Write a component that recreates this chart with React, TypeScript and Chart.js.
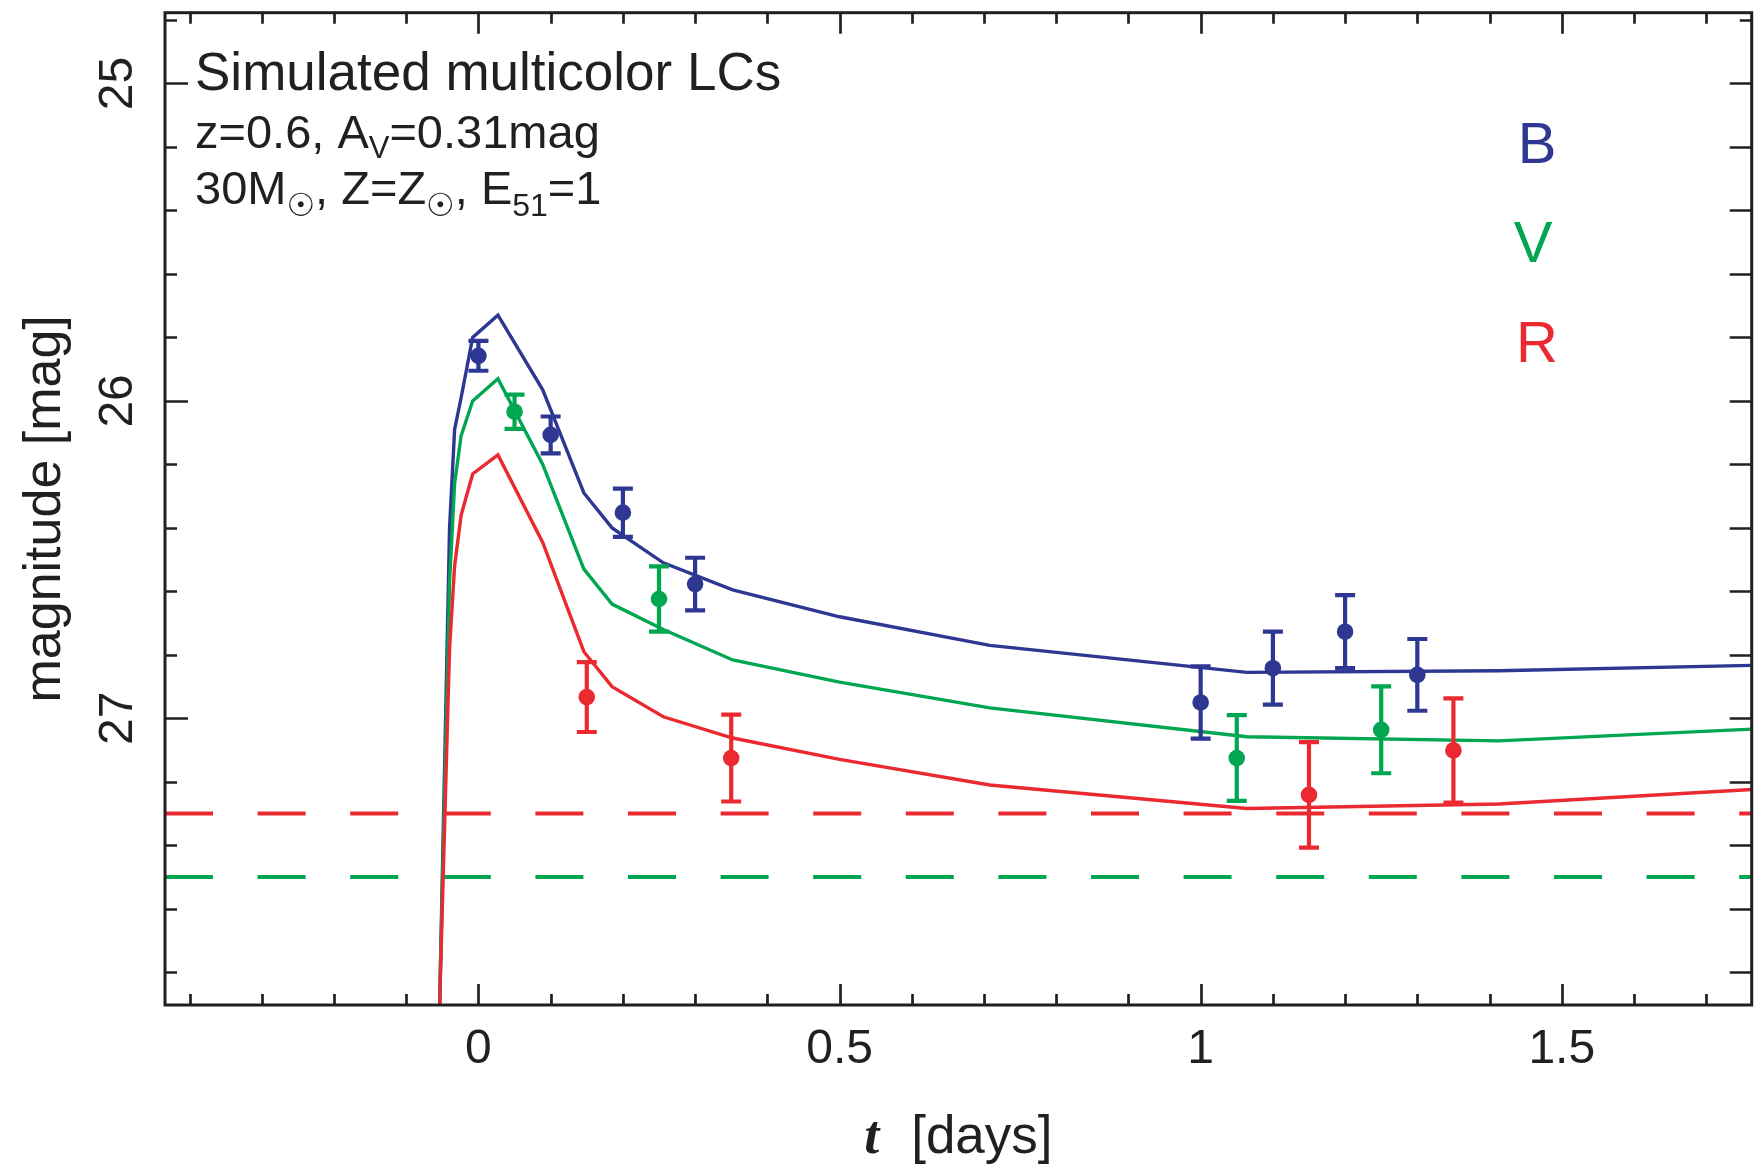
import React, { useEffect, useRef } from "react";
import { Chart, registerables } from "chart.js";

Chart.register(...registerables);

const W = 1754;
const H = 1164;

// ---- axis ranges ----
const X_MIN = -0.434;
const X_MAX = 1.763;
const Y_MIN = 24.777;
const Y_MAX = 27.903;

// ---- tick labels ----
const xMajorTicks = [0, 0.5, 1, 1.5];
const xTickLabels = ["0", "0.5", "1", "1.5"];
const yMajorTicks = [25, 26, 27];
const yTickLabels = ["25", "26", "27"];

// ---- model light curves (t in days, magnitude) ----
const modelT = [-0.0537, -0.04, -0.033, -0.024, -0.008, 0.027, 0.089, 0.146, 0.185, 0.256, 0.352, 0.5, 0.708, 1.064, 1.413, 1.763];
const modelB = [27.9, 26.4, 26.09, 25.99, 25.8, 25.73, 25.965, 26.29, 26.4, 26.51, 26.595, 26.68, 26.77, 26.855, 26.85, 26.833];
const modelV = [27.9, 26.57, 26.26, 26.11, 26.0, 25.93, 26.2, 26.53, 26.64, 26.72, 26.816, 26.886, 26.967, 27.058, 27.071, 27.034];
const modelR = [27.9, 26.78, 26.52, 26.36, 26.23, 26.17, 26.446, 26.79, 26.9, 26.995, 27.062, 27.129, 27.21, 27.284, 27.27, 27.224];

// ---- simulated observations ----
const obsBT = [0, 0.1, 0.2, 0.3, 1.0, 1.1, 1.2, 1.3];
const obsBMag = [25.858, 26.107, 26.352, 26.577, 26.95, 26.842, 26.727, 26.863];
const obsBErr = [0.047, 0.058, 0.076, 0.083, 0.114, 0.115, 0.115, 0.113];

const obsVT = [0.05, 0.25, 1.05, 1.25];
const obsVMag = [26.034, 26.624, 27.125, 27.036];
const obsVErr = [0.054, 0.103, 0.135, 0.137];

const obsRT = [0.15, 0.35, 1.15, 1.35];
const obsRMag = [26.933, 27.125, 27.241, 27.101];
const obsRErr = [0.11, 0.137, 0.166, 0.164];

// ---- limiting magnitudes ----
const limitR = 27.3;
const limitV = 27.5;

// ---- colours ----
const BLUE = "#2E3792";
const GREEN = "#00A650";
const RED = "#EA2A30";
const INK = "#231F20";

const modelDataset = (ys: number[], color: string, order: number) => ({
  type: "line" as const,
  data: modelT.map((t, i) => ({ x: t, y: ys[i] })),
  borderColor: color,
  borderWidth: 3.4,
  pointRadius: 0,
  tension: 0,
  fill: false,
  order,
});

const errorDatasets = (ts: number[], ms: number[], es: number[], color: string) =>
  ts.map((t, i) => ({
    type: "line" as const,
    data: [
      { x: t, y: ms[i] - es[i] },
      { x: t, y: ms[i] + es[i] },
    ],
    borderColor: color,
    borderWidth: 4.2,
    pointStyle: "line" as const,
    pointRadius: 10,
    pointBorderWidth: 4.2,
    pointBorderColor: color,
    pointBackgroundColor: color,
    fill: false,
    order: 1,
  }));

const markerDataset = (ts: number[], ms: number[], color: string) => ({
  type: "line" as const,
  data: ts.map((t, i) => ({ x: t, y: ms[i] })),
  showLine: false,
  pointRadius: 8.3,
  pointBorderWidth: 0,
  pointBackgroundColor: color,
  pointBorderColor: color,
  order: 0,
});

const limitDataset = (y: number, color: string) => ({
  type: "line" as const,
  data: [
    { x: X_MIN, y },
    { x: X_MAX, y },
  ],
  borderColor: color,
  borderWidth: 4,
  borderDash: [48, 44.6],
  pointRadius: 0,
  fill: false,
  order: 6,
});

type Run = { text: string; size: number; dy?: number; family?: string };

function drawRuns(ctx: CanvasRenderingContext2D, x: number, y: number, runs: Run[]) {
  let cx = x;
  for (const r of runs) {
    ctx.font = `${r.size}px ${r.family ?? "'Liberation Sans', Arial, sans-serif"}`;
    ctx.fillText(r.text, cx, y + (r.dy ?? 0));
    cx += ctx.measureText(r.text).width;
  }
}

const decorPlugin = {
  id: "decor",
  afterDatasetsDraw(chart: any) {
    const ctx: CanvasRenderingContext2D = chart.ctx;
    const a = chart.chartArea;
    const xs = chart.scales.x;
    const ys = chart.scales.y;
    ctx.save();
    ctx.strokeStyle = INK;
    ctx.fillStyle = INK;
    ctx.lineWidth = 2.7;
    ctx.lineCap = "butt";

    // x ticks (every 0.1, long at 0.5 multiples), inward on bottom and top
    ctx.beginPath();
    for (let i = -4; i <= 17; i++) {
      const v = i / 10;
      const px = Math.round(xs.getPixelForValue(v)) + 0.5;
      const major = i % 5 === 0;
      const len = major ? 21 : 11;
      ctx.moveTo(px, a.bottom);
      ctx.lineTo(px, a.bottom - len);
      ctx.moveTo(px, a.top);
      ctx.lineTo(px, a.top + len);
    }
    // y ticks (every 0.2, long at integers)
    for (let j = 0; j <= 15; j++) {
      const v = (248 + 2 * j) / 10;
      const py = Math.round(ys.getPixelForValue(v)) + 0.5;
      const major = (248 + 2 * j) % 10 === 0;
      const lenL = major ? 23 : 12;
      const lenR = j === 0 ? 12 : 22;
      ctx.moveTo(a.left, py);
      ctx.lineTo(a.left + lenL, py);
      ctx.moveTo(a.right, py);
      ctx.lineTo(a.right - lenR, py);
    }
    ctx.stroke();

    // frame
    ctx.lineWidth = 3;
    ctx.strokeRect(a.left, a.top, a.right - a.left, a.bottom - a.top);

    // x tick labels
    ctx.font = "48px 'Liberation Sans', Arial, sans-serif";
    ctx.textAlign = "center";
    ctx.textBaseline = "alphabetic";
    xMajorTicks.forEach((v, i) => {
      ctx.fillText(xTickLabels[i], xs.getPixelForValue(v), 1063);
    });

    // y tick labels (rotated)
    yMajorTicks.forEach((v, i) => {
      ctx.save();
      ctx.translate(131.5, ys.getPixelForValue(v));
      ctx.rotate(-Math.PI / 2);
      ctx.fillText(yTickLabels[i], 0, 0);
      ctx.restore();
    });

    // y title
    ctx.save();
    ctx.font = "52px 'Liberation Sans', Arial, sans-serif";
    ctx.translate(60, (a.top + a.bottom) / 2);
    ctx.rotate(-Math.PI / 2);
    ctx.fillText("magnitude [mag]", 0, 0);
    ctx.restore();

    // x title: "t [days]"
    const cx = (a.left + a.right) / 2;
    ctx.textAlign = "left";
    const tFont = "italic bold 54px 'Liberation Serif', serif";
    const dFont = "53px 'Liberation Sans', Arial, sans-serif";
    ctx.font = tFont;
    const wT = ctx.measureText("t").width;
    ctx.font = dFont;
    const wD = ctx.measureText("[days]").width;
    const gap = 32;
    const start = cx - (wT + gap + wD) / 2;
    ctx.font = tFont;
    ctx.fillText("t", start, 1153);
    ctx.font = dFont;
    ctx.fillText("[days]", start + wT + gap, 1153);

    // annotation block
    ctx.textAlign = "left";
    const tx = 195;
    drawRuns(ctx, tx, 90, [{ text: "Simulated multicolor LCs", size: 53 }]);
    drawRuns(ctx, tx, 148, [
      { text: "z=0.6, A", size: 47 },
      { text: "V", size: 31, dy: 10 },
      { text: "=0.31mag", size: 47 },
    ]);
    const sun = "'DejaVu Sans', sans-serif";
    drawRuns(ctx, tx, 204, [
      { text: "30M", size: 47 },
      { text: "\u2609", size: 32, dy: 12, family: sun },
      { text: ", Z=Z", size: 47 },
      { text: "\u2609", size: 32, dy: 12, family: sun },
      { text: ", E", size: 47 },
      { text: "51", size: 32, dy: 12 },
      { text: "=1", size: 47 },
    ]);

    // band labels
    ctx.textAlign = "center";
    ctx.font = "58px 'Liberation Sans', Arial, sans-serif";
    ctx.fillStyle = BLUE;
    ctx.fillText("B", 1537, 163);
    ctx.fillStyle = GREEN;
    ctx.fillText("V", 1533, 262);
    ctx.fillStyle = RED;
    ctx.fillText("R", 1537, 362);

    ctx.restore();
  },
};

export default function App() {
  const ref = useRef<HTMLCanvasElement | null>(null);

  useEffect(() => {
    document.documentElement.style.overflow = "hidden";
    document.body.style.margin = "0";
    if (!ref.current) return;
    const chart = new Chart(ref.current, {
      type: "line",
      data: {
        datasets: [
          markerDataset(obsBT, obsBMag, BLUE),
          markerDataset(obsVT, obsVMag, GREEN),
          markerDataset(obsRT, obsRMag, RED),
          ...errorDatasets(obsBT, obsBMag, obsBErr, BLUE),
          ...errorDatasets(obsVT, obsVMag, obsVErr, GREEN),
          ...errorDatasets(obsRT, obsRMag, obsRErr, RED),
          modelDataset(modelR, RED, 2),
          modelDataset(modelV, GREEN, 3),
          modelDataset(modelB, BLUE, 4),
          limitDataset(limitR, RED),
          limitDataset(limitV, GREEN),
        ] as any,
      },
      options: {
        animation: false,
        responsive: false,
        devicePixelRatio: 1,
        events: [],
        layout: {
          autoPadding: false,
          padding: { left: 165, right: 2.3, top: 12.7, bottom: 159 },
        },
        plugins: {
          legend: { display: false },
          tooltip: { enabled: false },
        },
        scales: {
          x: { type: "linear", min: X_MIN, max: X_MAX, display: false },
          y: { type: "linear", min: Y_MIN, max: Y_MAX, reverse: true, display: false },
        },
      },
      plugins: [decorPlugin],
    });
    return () => chart.destroy();
  }, []);

  return (
    <div style={{ position: "fixed", left: 0, top: 0, width: W, height: H, background: "#ffffff", overflow: "hidden" }}>
      <canvas ref={ref} width={W} height={H} style={{ width: W, height: H, display: "block" }} />
    </div>
  );
}
